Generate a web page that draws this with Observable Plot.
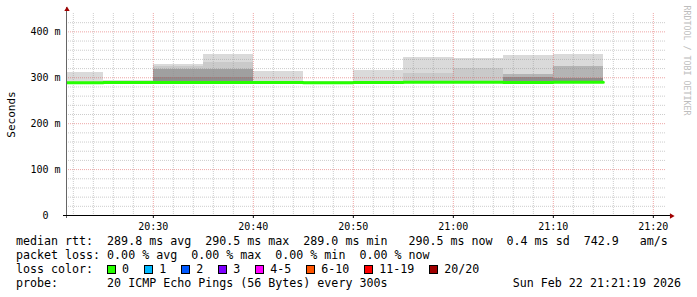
<!DOCTYPE html>
<html><head><meta charset="utf-8">
<script src="https://cdn.jsdelivr.net/npm/d3@7"></script>
<script src="https://cdn.jsdelivr.net/npm/@observablehq/plot@0.6"></script>
<style>
body{margin:0;background:#fff;}
#wrap{position:relative;width:697px;height:297px;overflow:hidden;background:#fff;font-family:"DejaVu Sans Mono",monospace;}
#chart svg{display:block;}
#legend{position:absolute;left:16px;top:233.5px;font-size:11.65px;line-height:14.2px;white-space:pre;color:#000;width:665px;}
.row{height:14.2px;}
.sq{display:inline-block;box-sizing:border-box;width:9px;height:9px;border:1px solid #000;margin-right:6px;vertical-align:-1px;}
.lt{margin-right:15px;}
.probe{display:flex;justify-content:space-between;}
</style>
</head><body>
<div id="wrap"><div id="chart"></div><div id="legend"></div></div>
<script>
// ---- data ----
const day = "2026-02-22";
const rangeStart = "20:21:19";
const rangeEnd = "21:21:19";
const stepStarts = ["20:20","20:25","20:30","20:35","20:40","20:45","20:50","20:55","21:00","21:05","21:10"];
const stepEnd = "21:15";
const medianMs = [289.0, 289.5, 289.9, 289.9, 289.6, 289.4, 289.8, 290.0, 290.1, 289.7, 290.5];
const lowMs    = [288.4, 288.9, 289.0, 289.1, 288.9, 288.8, 289.0, 289.2, 289.3, 289.0, 289.6];
const smokeMax = [311.5, 293.5, 329.0, 350.7, 313.7, 291.0, 316.0, 343.5, 341.3, 349.6, 350.7];
const smokeQ2  = [null, null, 325.0, 334.0, null, null, null, 310.0, 321.0, null, null];
const smokeQ3  = [null, null, null, null, null, null, null, null, null, 308.0, 324.6];
const smokeQ4  = [null, null, 318.0, 318.0, null, null, null, null, null, null, null];
const smokeQ5  = [null, null, 301.0, 301.5, null, null, null, null, null, 300.6, 299.5];
const smokeColors = ["#dadada", "#cacaca", "#b4b4b4", "#a0a0a0", "#8e8e8e"];

const xTickLabels = ["20:30","20:40","20:50","21:00","21:10","21:20"];
const yTicks = [0, 100, 200, 300, 400];
const yTickLabels = ["0\u00a0\u00a0", "100 m", "200 m", "300 m", "400 m"];
const yMax = 440;

const statsLine = "median rtt:  289.8 ms avg  290.5 ms max  289.0 ms min   290.5 ms now  0.4 ms sd  742.9   am/s";
const lossLine = "packet loss: 0.00 % avg  0.00 % max  0.00 % min  0.00 % now";
const lossLabels = ["0","1","2","3","4-5","6-10","11-19","20/20"];
const lossColors = ["#26ff00","#00b8ff","#0059ff","#7e00ff","#ff00ff","#ff5500","#ff0000","#a00000"];
const probeText = "probe:       20 ICMP Echo Pings (56 Bytes) every 300s";
const dateText = "Sun Feb 22 21:21:19 2026";

// ---- build ----
const T = s => new Date(`${day}T${s.length === 5 ? s + ":00" : s}`);
const t0 = T(rangeStart), t1 = T(rangeEnd);
const starts = stepStarts.map(T);
const ends = starts.slice(1).concat([T(stepEnd)]);
const idx = d3.range(stepStarts.length);
const layers = [smokeMax, smokeQ2, smokeQ3, smokeQ4, smokeQ5];

const majorX = xTickLabels.map(T);
const minorX = d3.timeMinute.every(2).range(t0, t1).filter(d => d.getMinutes() % 10 !== 0);
const majorY = [100, 200, 300, 400];
const minorY = d3.range(20, yMax, 20).filter(v => v % 100 !== 0);

const lineData = idx.map(i => ({t: starts[i], v: medianMs[i]}))
  .concat([{t: ends[ends.length - 1], v: medianMs[medianMs.length - 1]}]);

const gridMinor = {stroke: "#8f8f8f", strokeOpacity: 0.45, strokeDasharray: "1,1"};
const gridMajor = {stroke: "#de5050", strokeOpacity: 0.5, strokeDasharray: "1,1"};

const marks = [];
layers.forEach((layer, k) => {
  marks.push(Plot.rectY(idx.filter(i => layer[i] != null), {
    x1: i => starts[i], x2: i => ends[i], y1: i => lowMs[i], y2: i => layer[i],
    fill: smokeColors[k], clip: true, shapeRendering: "crispEdges"
  }));
});
marks.push(
  Plot.ruleY(minorY, gridMinor),
  Plot.ruleX(minorX, gridMinor),
  Plot.ruleY(majorY, gridMajor),
  Plot.ruleX(majorX, gridMajor),
  Plot.line(lineData, {x: "t", y: "v", curve: "step-after", stroke: "#26ff00", strokeWidth: 3, clip: true}),
  Plot.ruleX([t0], {stroke: "#666", insetTop: -6, insetBottom: -3}),
  Plot.ruleY([0], {stroke: "#000", insetLeft: -3, insetRight: -5}),
  Plot.dot([0], {frameAnchor: "top-left", symbol: "triangle", r: 2, fill: "#a00000", stroke: "none", dy: -4, dx: 0.5}),
  Plot.dot([0], {frameAnchor: "bottom-right", symbol: "triangle", r: 2, rotate: 90, fill: "#a00000", stroke: "none", dx: 5, dy: 0.5}),
  Plot.axisX({ticks: majorX, tickFormat: d3.timeFormat("%H:%M"), tickSize: 3, tickPadding: 4, fontSize: 10, label: null}),
  Plot.axisY({ticks: yTicks, tickFormat: d => yTickLabels[yTicks.indexOf(d)], tickSize: 0, tickPadding: 6, fontSize: 10, label: null}),
  Plot.text(["Seconds"], {frameAnchor: "left", rotate: -90, dx: -55, textAnchor: "middle", fontSize: 11, fill: "#000"}),
  Plot.text(["RRDTOOL / TOBI OETIKER"], {frameAnchor: "top-right", rotate: 90, textAnchor: "start", lineAnchor: "middle", dx: 20, dy: -8, fontSize: 8.3, fill: "#bdbdbd"})
);

const chart = Plot.plot({
  width: 697, height: 233,
  marginLeft: 66, marginRight: 31, marginTop: 13, marginBottom: 18,
  x: {type: "time", domain: [t0, t1]},
  y: {domain: [0, yMax]},
  style: {fontFamily: "DejaVu Sans Mono", fontSize: "10px", background: "#fff", color: "#000", overflow: "visible"},
  marks
});
document.getElementById("chart").appendChild(chart);

// ---- legend ----
const lg = document.getElementById("legend");
const r1 = document.createElement("div"); r1.className = "row"; r1.textContent = statsLine; lg.appendChild(r1);
const r2 = document.createElement("div"); r2.className = "row"; r2.textContent = lossLine; lg.appendChild(r2);
const r3 = document.createElement("div"); r3.className = "row";
r3.appendChild(document.createTextNode("loss color:  "));
lossLabels.forEach((l, i) => {
  const s = document.createElement("span"); s.className = "sq"; s.style.background = lossColors[i]; r3.appendChild(s);
  const t = document.createElement("span"); t.className = "lt"; t.textContent = l; r3.appendChild(t);
});
lg.appendChild(r3);
const r4 = document.createElement("div"); r4.className = "row probe";
const p1 = document.createElement("span"); p1.textContent = probeText;
const p2 = document.createElement("span"); p2.textContent = dateText;
r4.appendChild(p1); r4.appendChild(p2); lg.appendChild(r4);
</script>
</body></html>
